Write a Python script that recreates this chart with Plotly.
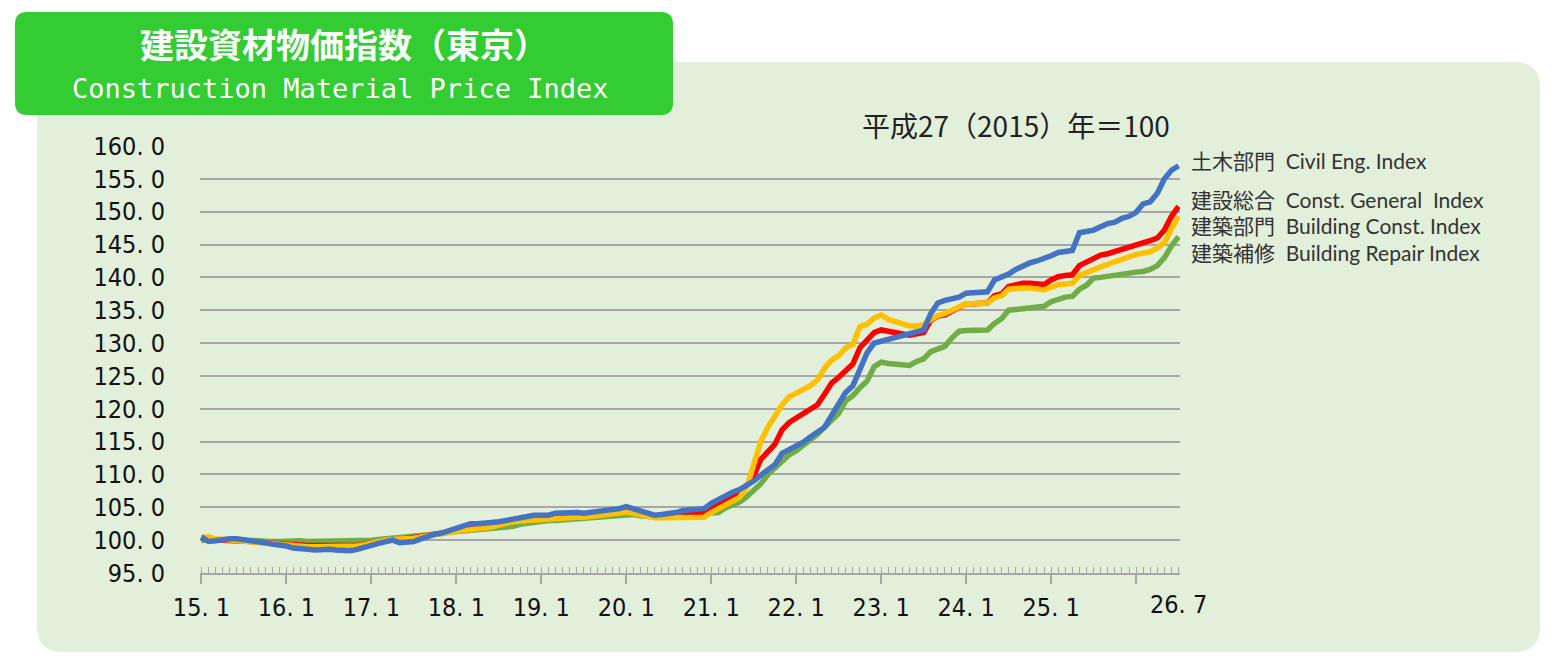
import plotly.graph_objects as go

# monthly index values, 2015.1 - 2026.7 (平成27年 = 100)
civil = [
    100.5, 99.8, 99.9, 100.1, 100.2, 100.2, 100.1, 99.9, 99.8, 99.6, 99.4, 99.3,
    99.1, 98.8, 98.6, 98.6, 98.5, 98.6, 98.6, 98.5, 98.4, 98.4, 98.6, 98.8,
    99.2, 99.5, 99.8, 100.0, 99.6, 99.6, 99.8, 100.2, 100.6, 100.9, 101.1, 101.4,
    101.7, 102.0, 102.5, 102.5, 102.5, 102.7, 102.8, 103.0, 103.3, 103.5, 103.7, 103.8,
    103.8, 103.8, 104.1, 104.2, 104.3, 104.2, 104.1, 104.2, 104.3, 104.4, 104.5, 104.8,
    105.1, 104.8, 104.5, 104.1, 103.8, 103.9, 104.0, 104.2, 104.5, 104.6, 104.6, 104.8,
    105.6, 106.2, 106.9, 107.3, 107.7, 108.3, 109.0, 109.9, 110.8, 111.5, 113.2, 113.8,
    114.2, 114.9, 115.7, 116.4, 117.2, 119.0, 120.8, 122.5, 123.5, 126.0, 128.5, 130.0,
    130.3, 130.5, 130.7, 131.0, 131.3, 131.6, 132.0, 134.5, 136.1, 136.5, 136.7, 137.0,
    137.6, 137.7, 137.7, 137.8, 139.6, 140.0, 140.5, 141.2, 141.8, 142.2, 142.5, 142.8,
    143.3, 143.8, 143.9, 144.1, 146.8, 146.9, 147.2, 147.7, 148.2, 148.4, 149.0, 149.3,
    149.9, 151.2, 151.5, 152.8, 155.0, 156.3, 157.0,
]
general = [
    100.3, 100.1, 100.0, 100.0, 100.0, 100.0, 99.9, 99.8, 99.7, 99.6, 99.6, 99.5,
    99.5, 99.4, 99.3, 99.2, 99.2, 99.2, 99.1, 99.1, 99.1, 99.1, 99.2, 99.4,
    99.6, 99.8, 100.0, 100.1, 100.1, 100.2, 100.3, 100.5, 100.7, 100.9, 101.1, 101.3,
    101.5, 101.7, 101.9, 102.0, 102.1, 102.3, 102.5, 102.7, 102.9, 103.1, 103.2, 103.3,
    103.3, 103.4, 103.6, 103.7, 103.8, 103.8, 103.8, 103.9, 104.0, 104.1, 104.2, 104.4,
    104.6, 104.4, 104.1, 103.8, 103.6, 103.6, 103.7, 103.8, 103.9, 104.0, 104.0, 104.2,
    105.0, 105.6, 106.1, 106.6, 107.2, 108.3, 109.8, 112.3, 113.6, 114.6, 116.8, 117.9,
    118.6, 119.2, 119.8, 120.6, 122.2, 123.9, 124.8, 125.9, 126.8, 129.3, 130.6, 131.6,
    132.0, 131.8, 131.6, 131.4, 131.2, 131.4, 131.6, 133.5, 134.1, 134.3, 134.8, 135.5,
    136.0, 136.0, 136.0, 136.1, 137.2, 137.5, 138.6, 138.9, 139.1, 139.1, 138.9, 138.9,
    139.6, 140.1, 140.3, 140.4, 141.8, 142.3, 143.0, 143.4, 143.6, 143.9, 144.3, 144.6,
    145.0, 145.3, 145.6, 146.0, 147.2, 149.3, 150.8,
]
building = [
    100.4, 100.5, 100.2, 100.1, 100.0, 99.9, 99.7, 99.6, 99.6, 99.5, 99.5, 99.4,
    99.3, 99.2, 99.1, 99.0, 99.0, 99.0, 98.9, 98.9, 98.9, 99.0, 99.1, 99.3,
    99.6, 99.8, 100.0, 100.1, 100.1, 100.2, 100.3, 100.5, 100.7, 100.8, 101.0, 101.2,
    101.3, 101.5, 101.6, 101.7, 101.8, 102.0, 102.3, 102.6, 102.8, 102.9, 103.0, 103.1,
    103.1, 103.2, 103.3, 103.4, 103.5, 103.5, 103.5, 103.6, 103.7, 103.8, 103.9, 104.1,
    104.3, 104.1, 103.8, 103.6, 103.4, 103.4, 103.4, 103.4, 103.4, 103.4, 103.5, 103.5,
    104.2, 104.8, 105.2, 105.9, 106.5, 108.0, 111.5, 115.0, 117.2, 118.8, 120.6, 121.8,
    122.4, 123.0, 123.5, 124.4, 126.2, 127.4, 128.1, 129.3, 129.8, 132.5, 132.9, 133.8,
    134.3, 133.6, 133.2, 132.8, 132.6, 132.6, 132.8, 133.6, 134.2, 134.5, 135.0, 135.5,
    136.0, 136.0, 136.0, 136.1, 136.9, 137.2, 138.2, 138.4, 138.4, 138.4, 138.2, 138.1,
    138.5, 138.9, 139.0, 139.1, 140.3, 140.8, 141.2, 141.6, 142.0, 142.4, 142.8, 143.1,
    143.5, 143.7, 143.9, 144.5, 145.3, 147.4, 149.3,
]
repair = [
    100.0, 99.9, 100.0, 100.0, 100.1, 100.1, 100.0, 99.9, 99.9, 99.8, 99.8, 99.8,
    99.9, 100.0, 99.9, 99.8, 99.8, 99.8, 99.8, 99.8, 99.8, 99.8, 99.8, 99.9,
    100.0, 100.1, 100.2, 100.3, 100.4, 100.4, 100.4, 100.5, 100.6, 100.8, 101.0, 101.2,
    101.3, 101.4, 101.5, 101.4, 101.5, 101.6, 101.7, 101.8, 102.1, 102.4, 102.6, 102.7,
    102.8, 103.0, 103.0, 103.1, 103.2, 103.3, 103.3, 103.3, 103.4, 103.5, 103.6, 103.8,
    104.0, 103.9, 103.7, 103.6, 103.5, 103.5, 103.6, 103.6, 103.7, 103.8, 104.0, 104.1,
    104.0, 104.2, 104.9, 105.3, 105.8, 106.6, 107.5, 108.6, 110.0, 111.0, 111.9, 113.0,
    113.6, 114.4, 115.1, 116.1, 117.2, 118.2, 119.3, 121.2, 122.0, 123.2, 124.2, 126.4,
    127.1, 126.9, 126.8, 126.8, 126.6, 127.2, 127.6, 128.7, 129.2, 129.5, 130.8, 131.8,
    131.9, 132.0, 132.0, 132.0, 133.0, 133.7, 135.0, 135.1, 135.2, 135.4, 135.5, 135.6,
    136.3, 136.7, 137.0, 137.1, 138.2, 138.8, 139.9, 140.0, 140.2, 140.4, 140.5, 140.6,
    140.8, 140.9, 141.2, 141.8, 143.0, 144.8, 146.2,
]

year_labels = ["15. 1", "16. 1", "17. 1", "18. 1", "19. 1", "20. 1",
               "21. 1", "22. 1", "23. 1", "24. 1", "25. 1", ""]
last_label = "26. 7"
y_ticks = [95, 100, 105, 110, 115, 120, 125, 130, 135, 140, 145, 150, 155, 160]

legend_rows = [
    ("土木部門\u00a0\u00a0Civil Eng. Index", 160),
    ("建設総合\u00a0\u00a0Const. General\u00a0\u00a0Index", 199),
    ("建築部門\u00a0\u00a0Building\u00a0Const. Index", 225.5),
    ("建築補修\u00a0\u00a0Building Repair Index", 252),
]

# page is drawn with an 8px body margin, so the figure is 16px smaller
W, H = 1553 - 16, 663 - 16
PL, PR, PT, PB = 200, 1180, 146, 573   # plot area in page pixels
OFF = 8


def px(x):
    return (x - PL) / (PR - PL)


def py(y):
    return (PB - y) / (PB - PT)


def rounded_rect(x0, y0, x1, y1, r):
    pts = [
        ("M", x0 + r, y0), ("L", x1 - r, y0), ("Q", x1, y0, x1, y0 + r),
        ("L", x1, y1 - r), ("Q", x1, y1, x1 - r, y1), ("L", x0 + r, y1),
        ("Q", x0, y1, x0, y1 - r), ("L", x0, y0 + r), ("Q", x0, y0, x0 + r, y0),
    ]
    out = []
    for p in pts:
        cmd, coords = p[0], p[1:]
        pairs = [f"{px(coords[i]):.5f},{py(coords[i + 1]):.5f}" for i in range(0, len(coords), 2)]
        out.append(cmd + " " + " ".join(pairs))
    return " ".join(out) + " Z"


months = list(range(len(civil)))

fig = go.Figure()
series = [
    (repair, "#70AD47", "建築補修"),
    (general, "#FF0000", "建設総合"),
    (building, "#FFC000", "建築部門"),
    (civil, "#4472C4", "土木部門"),
]
for vals, color, name in series:
    fig.add_trace(go.Scatter(
        x=months, y=vals, mode="lines", name=name,
        line=dict(color=color, width=5.5),
        showlegend=False, hoverinfo="skip",
    ))

tick_font = dict(family="DejaVu Sans Condensed, DejaVu Sans, sans-serif", size=25, color="#111")

fig.update_xaxes(
    range=[-0.2, 138.2],
    tickvals=list(range(0, 133, 12)),
    ticktext=year_labels,
    ticks="outside", ticklen=9, tickwidth=1.5, tickcolor="#A6A6A6",
    minor=dict(dtick=1, ticks="inside", ticklen=6, tickwidth=1, tickcolor="#A6A6A6"),
    showline=True, linecolor="#A6A6A6", linewidth=1.5,
    showgrid=False, zeroline=False,
    tickfont=tick_font, ticklabelstandoff=2,
)
fig.update_yaxes(
    range=[95, 160],
    tickvals=y_ticks,
    ticktext=[f"{v:.1f}".replace(".", ". ") for v in y_ticks],
    ticks="", showline=False, zeroline=False,
    showgrid=True, gridcolor="#A6A6A6", gridwidth=1.5,
    tickfont=tick_font, ticklabelstandoff=34,
)

shapes = [
    dict(type="path", xref="paper", yref="paper", layer="below",
         path=rounded_rect(37, 62, 1540, 652, 26),
         fillcolor="#E2EFDA", line=dict(width=0)),
    dict(type="path", xref="paper", yref="paper", layer="below",
         path=rounded_rect(15, 12, 673, 115, 12),
         fillcolor="#33CC33", line=dict(width=0)),
]

legend_font = dict(family="Lato, Noto Sans CJK JP, sans-serif", size=21, color="#333")
annotations = [
    dict(x=px(344), y=py(44), xref="paper", yref="paper", showarrow=False,
         text="<b>建設資材物価指数（東京）</b>", xanchor="center", yanchor="middle",
         font=dict(family="Noto Sans CJK JP", size=34, color="white")),
    dict(x=px(340), y=py(88), xref="paper", yref="paper", showarrow=False,
         text="Construction Material Price Index", xanchor="center", yanchor="middle",
         font=dict(family="DejaVu Sans Mono", size=27, color="white")),
    dict(x=px(1172), y=py(125), xref="paper", yref="paper", showarrow=False,
         text="平成27（2015）年＝100", xanchor="right", yanchor="middle",
         font=dict(family="Noto Sans CJK JP", size=28, color="#222")),
    dict(x=138, y=py(604), xref="x", yref="paper", showarrow=False,
         text=last_label, xanchor="center", yanchor="middle", font=tick_font),
]
for text, ypix in legend_rows:
    annotations.append(dict(
        x=px(1189), y=py(ypix), xref="paper", yref="paper", showarrow=False,
        text=text, xanchor="left", yanchor="middle", font=legend_font,
    ))

fig.update_layout(
    width=W, height=H,
    margin=dict(l=PL - OFF, r=W - (PR - OFF), t=PT - OFF, b=H - (PB - OFF)),
    paper_bgcolor="white", plot_bgcolor="rgba(0,0,0,0)",
    shapes=shapes, annotations=annotations,
    showlegend=False,
)

fig.write_html("out.html")
